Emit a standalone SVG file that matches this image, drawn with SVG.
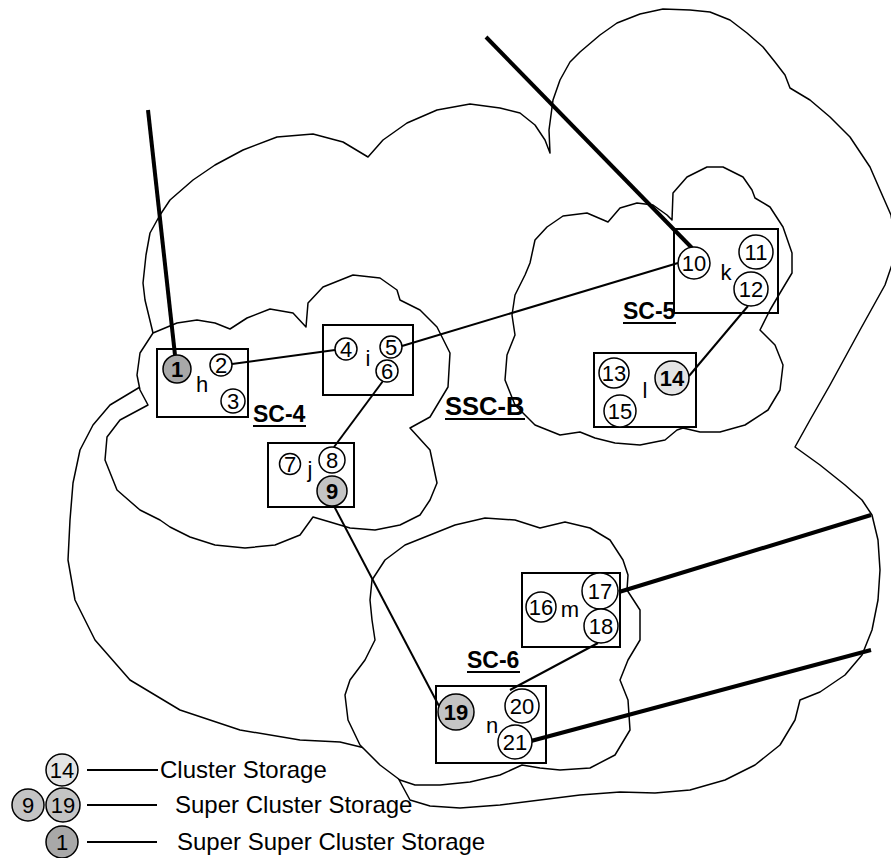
<svg xmlns="http://www.w3.org/2000/svg" width="891" height="858" viewBox="0 0 891 858">
<style>
.cloud{fill:#fff;stroke:#000;stroke-width:1.5;stroke-linejoin:round}
.box{fill:none;stroke:#000;stroke-width:2}
.nd{fill:#fff;stroke:#000;stroke-width:1.5}
.g1{fill:#a8a8a8}
.g2{fill:#c4c4c4}
.g3{fill:#e4e4e4}
.t{font-family:"Liberation Sans",Arial,sans-serif;font-size:22px;text-anchor:middle;fill:#000}
.b{font-weight:bold}
.sc{font-family:"Liberation Sans",Arial,sans-serif;font-size:23px;font-weight:bold;fill:#000}
.ln{stroke:#000;stroke-width:2;fill:none}
.thick{stroke:#000;stroke-width:4;fill:none}
.leg{font-family:"Liberation Sans",Arial,sans-serif;font-size:24px;fill:#000}
</style>
<g id="cloud-SSC-B">
<path class="cloud" d="M70,520 L73,483 L80,450 L93,425 L110,405 L140,387 L150,360 L153,333 L145,300 L143,283 L146,255 L150,233 L160,215 L170,200 L193,180 L215,165 L243,150 L277,137 L313,134 L343,142 L368,157 L383,140 L407,123 L437,110 L470,104 L500,108 L520,113 L535,125 L545,140 L550,153 L549,130 L553,100 L560,80 L570,62 L580,52 L600,35 L617,23 L640,14 L663,9 L690,10 L710,12 L730,20 L747,33 L763,47 L775,62 L785,75 L790,88 L810,100 L830,117 L850,137 L870,167 L880,190 L891,215 L897,250 L885,285 L860,330 L830,385 L810,420 L795,447 L820,465 L845,485 L862,500 L872,515 L878,540 L880,570 L878,600 L872,630 L862,655 L845,675 L820,692 L800,700 L795,720 L780,745 L755,765 L725,780 L690,790 L655,793 L620,792 L580,795 L540,800 L500,805 L460,808 L430,806 L410,800 L397,776 L373,750 L340,742 L300,740 L240,730 L180,710 L130,680 L95,640 L75,600 L68,560 Z"/>
</g>
<g id="cloud-SC-4">
<path class="cloud" d="M148,405 L140,390 L137,375 L140,353 L153,333 L177,323 L197,320 L215,323 L230,329 L247,318 L270,309 L293,313 L306,327 L308,303 L323,287 L353,275 L380,278 L397,290 L400,300 L420,310 L437,327 L450,353 L448,387 L430,417 L410,428 L430,450 L437,483 L430,500 L420,515 L400,525 L375,530 L350,528 L330,522 L313,517 L300,535 L275,545 L245,548 L215,545 L190,537 L170,527 L160,520 L140,510 L117,490 L105,460 L107,437 L120,420 Z"/>
</g>
<g id="cloud-SC-5">
<path class="cloud" d="M530,263 L535,240 L547,227 L563,216 L587,213 L608,222 L620,208 L637,203 L653,205 L667,215 L672,220 L673,193 L687,177 L707,167 L723,167 L743,177 L752,190 L755,198 L770,207 L783,227 L792,253 L792,273 L780,293 L770,310 L760,330 L775,345 L783,365 L780,390 L768,410 L745,425 L720,432 L700,432 L683,428 L677,430 L665,440 L640,445 L615,443 L595,438 L580,432 L560,435 L535,425 L515,405 L505,380 L507,355 L515,335 L512,315 L515,295 L525,275 Z"/>
</g>
<g id="cloud-SC-6">
<path class="cloud" d="M370,600 L372,580 L385,560 L405,545 L430,535 L455,525 L485,518 L515,520 L540,528 L565,522 L590,528 L610,540 L623,560 L628,575 L627,590 L640,610 L640,640 L628,660 L620,680 L628,700 L630,730 L615,755 L590,768 L560,770 L540,768 L522,765 L500,775 L470,782 L440,785 L415,785 L400,780 L380,765 L360,745 L348,720 L345,695 L350,680 L365,660 L375,640 L372,620 Z"/>
</g>
<g id="connectors">
<line class="ln" x1="232" y1="364" x2="335" y2="350"/>
<line class="ln" x1="402" y1="346" x2="678" y2="263"/>
<line class="ln" x1="383" y1="381" x2="334" y2="447"/>
<line class="ln" x1="334" y1="506" x2="439" y2="706"/>
<line class="ln" x1="748" y1="306" x2="689" y2="376"/>
<line class="ln" x1="598" y1="643" x2="510" y2="690"/>
<line class="thick" x1="148" y1="110" x2="175" y2="355"/>
<line class="thick" x1="486" y1="37" x2="692" y2="248"/>
<line class="thick" x1="619" y1="592" x2="871" y2="515"/>
<line class="thick" x1="531" y1="741" x2="871" y2="650"/>
</g>
<g id="cluster-h">
<rect class="box" x="157" y="349" width="91" height="68"/>
<text class="t" x="202" y="392">h</text>
</g>
<g id="node-1"><circle class="nd g1" cx="177" cy="369" r="14"/><text class="t b" x="177" y="377">1</text></g>
<g id="node-2"><circle class="nd" cx="221" cy="365" r="11"/><text class="t" x="221" y="373">2</text></g>
<g id="node-3"><circle class="nd" cx="233" cy="401" r="12"/><text class="t" x="233" y="409">3</text></g>
<g id="cluster-i">
<rect class="box" x="323" y="325" width="90" height="70"/>
<text class="t" x="368" y="366">i</text>
</g>
<g id="node-4"><circle class="nd" cx="346" cy="349" r="11"/><text class="t" x="346" y="357">4</text></g>
<g id="node-5"><circle class="nd" cx="391" cy="347" r="11"/><text class="t" x="391" y="355">5</text></g>
<g id="node-6"><circle class="nd" cx="387" cy="371" r="11"/><text class="t" x="387" y="379">6</text></g>
<g id="cluster-j">
<rect class="box" x="268" y="443" width="86" height="64"/>
<text class="t" x="310" y="477">j</text>
</g>
<g id="node-7"><circle class="nd" cx="290" cy="464" r="10.5"/><text class="t" x="290" y="472">7</text></g>
<g id="node-8"><circle class="nd" cx="332" cy="460" r="13"/><text class="t" x="332" y="468">8</text></g>
<g id="node-9"><circle class="nd g2" cx="332" cy="491" r="15"/><text class="t b" x="332" y="499">9</text></g>
<g id="cluster-k">
<rect class="box" x="674" y="229" width="104" height="84"/>
<text class="t" x="726" y="280">k</text>
</g>
<g id="node-10"><circle class="nd" cx="694" cy="263" r="16"/><text class="t" x="694" y="271">10</text></g>
<g id="node-11"><circle class="nd" cx="756" cy="252" r="17"/><text class="t" x="756" y="260">11</text></g>
<g id="node-12"><circle class="nd" cx="751" cy="289" r="17"/><text class="t" x="751" y="297">12</text></g>
<g id="cluster-l">
<rect class="box" x="594" y="353" width="102" height="74"/>
<text class="t" x="645" y="398">l</text>
</g>
<g id="node-13"><circle class="nd" cx="614" cy="373" r="15"/><text class="t" x="614" y="381">13</text></g>
<g id="node-14"><circle class="nd g3" cx="672" cy="378" r="17"/><text class="t b" x="672" y="386">14</text></g>
<g id="node-15"><circle class="nd" cx="620" cy="411" r="16"/><text class="t" x="620" y="419">15</text></g>
<g id="cluster-m">
<rect class="box" x="522" y="573" width="98" height="74"/>
<text class="t" x="570" y="617">m</text>
</g>
<g id="node-16"><circle class="nd" cx="541" cy="607" r="15"/><text class="t" x="541" y="615">16</text></g>
<g id="node-17"><circle class="nd" cx="600" cy="591" r="18"/><text class="t" x="600" y="599">17</text></g>
<g id="node-18"><circle class="nd" cx="601" cy="626" r="17"/><text class="t" x="601" y="634">18</text></g>
<g id="cluster-n">
<rect class="box" x="436" y="686" width="110" height="77"/>
<text class="t" x="492" y="733">n</text>
</g>
<g id="node-19"><circle class="nd g2" cx="456" cy="712" r="18"/><text class="t b" x="456" y="720">19</text></g>
<g id="node-20"><circle class="nd" cx="522" cy="706" r="17"/><text class="t" x="522" y="714">20</text></g>
<g id="node-21"><circle class="nd" cx="515" cy="742" r="17"/><text class="t" x="515" y="750">21</text></g>
<g id="labels">
<text class="sc" x="253" y="422">SC-4</text>
<line class="ln" x1="253" y1="426" x2="306" y2="426"/>
<text class="sc" x="623" y="319">SC-5</text>
<line class="ln" x1="623" y1="323" x2="676" y2="323"/>
<text class="sc" x="467" y="668">SC-6</text>
<line class="ln" x1="467" y1="672" x2="520" y2="672"/>
<text class="sc" x="445" y="415" style="font-size:25.5px">SSC-B</text>
<line class="ln" x1="445" y1="419" x2="525" y2="419"/>
</g>
<g id="legend">
<circle class="nd g3" cx="62" cy="770" r="16"/><text class="t" x="62" y="778">14</text>
<line class="ln" x1="87" y1="770" x2="158" y2="770"/>
<text class="leg" x="160" y="778">Cluster Storage</text>
<circle class="nd g2" cx="28" cy="805" r="16"/><text class="t" x="28" y="813">9</text>
<circle class="nd g2" cx="63" cy="805" r="17"/><text class="t" x="63" y="813">19</text>
<line class="ln" x1="87" y1="805" x2="157" y2="805"/>
<text class="leg" x="175" y="813">Super Cluster Storage</text>
<circle class="nd g1" cx="62" cy="842" r="16"/><text class="t" x="62" y="850">1</text>
<line class="ln" x1="87" y1="842" x2="157" y2="842"/>
<text class="leg" x="177" y="850">Super Super Cluster Storage</text>
</g>
</svg>
